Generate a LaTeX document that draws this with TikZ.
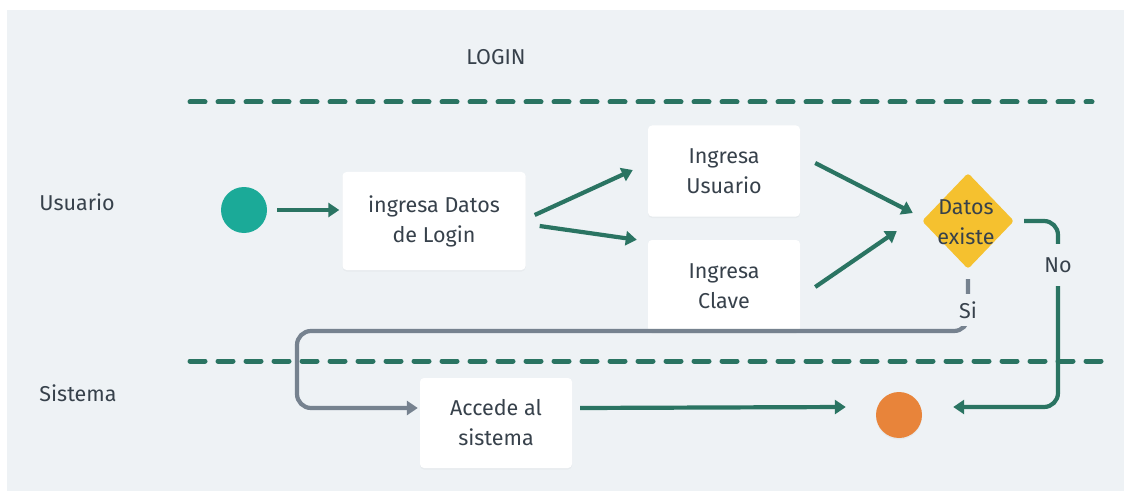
\documentclass[tikz,border=0pt]{standalone}
\usepackage{fontspec}
\setmainfont{Fira Sans}
\usetikzlibrary{arrows.meta,shapes.geometric,shadows}

\definecolor{bgc}{HTML}{EEF2F5}
\definecolor{flowc}{HTML}{2A7462}
\definecolor{greyc}{HTML}{76828F}
\definecolor{txtc}{HTML}{37414B}
\definecolor{startc}{HTML}{1BAA98}
\definecolor{endc}{HTML}{E8843A}
\definecolor{decc}{HTML}{F5C12F}

\tikzset{
  lbl/.style={font=\fontsize{21.5}{26}\selectfont, text=txtc, inner sep=0pt},
  stepbox/.style={fill=white, rounded corners=4pt, align=center,
    font=\fontsize{21.5}{30}\selectfont, text=txtc,
    drop shadow={opacity=0.06, shadow xshift=0pt, shadow yshift=-1.5pt}},
  flow/.style={draw=flowc, line width=4.2pt,
    -{Triangle[length=11pt,width=14pt]}},
  yesflow/.style={draw=greyc, line width=4.2pt,
    -{Triangle[length=11pt,width=14pt]}},
  lane/.style={draw=flowc, line width=5pt, line cap=round,
    dash pattern=on 15pt off 13pt},
  gaplabel/.style={fill=bgc, text=txtc, font=\fontsize{21.5}{26}\selectfont,
    inner xsep=2pt},
}

\begin{document}
\begin{tikzpicture}[x=1pt,y=-1pt]
  % page and backdrop
  \useasboundingbox (0,0) rectangle (1130,492);
  \fill[white] (0,0) rectangle (1130,492);
  \fill[bgc] (7,10) rectangle (1124,491);

  % title and lanes
  \node[lbl] (title) at (496,57) {LOGIN};
  \node[lbl] (laneU) at (77,202) {Usuario};
  \node[lbl] (laneS) at (78,393) {Sistema};
  \coordinate (l1a) at (190,102);
  \coordinate (l1b) at (1092,102);
  \coordinate (l2a) at (190,361);
  \coordinate (l2b) at (1102,361);
  \draw[lane] (l1a) -- (l1b);
  \draw[lane] (l2a) -- (l2b);

  % activity nodes
  \node[circle, fill=startc, minimum size=46pt, inner sep=0pt] (start) at (244,210) {};
  \node[stepbox, minimum width=183pt, minimum height=98pt] (ing) at (434,221) {ingresa Datos\\de Login};
  \node[stepbox, minimum width=152pt, minimum height=91pt] (usr) at (724,171) {Ingresa\\Usuario};
  \node[stepbox, minimum width=152pt, minimum height=92pt] (cla) at (724,286) {Ingresa\\Clave};
  \node[diamond, fill=decc, minimum width=92pt, minimum height=96pt, inner sep=0pt,
        rounded corners=3pt] (dec) at (968,221) {};
  \node[align=center, text=txtc, font=\fontsize{21.5}{30}\selectfont] (dectext) at (966,222) {Datos\\existe};
  \node[stepbox, minimum width=152pt, minimum height=90pt] (acc) at (496,423) {Accede al\\sistema};
  \node[circle, fill=endc, minimum size=46pt, inner sep=0pt,
        drop shadow={opacity=0.08, shadow xshift=0pt, shadow yshift=-1.5pt}] (end) at (899,415) {};

  % main flow
  \draw[flow] ([shift={(10,0)}]start.east) -- ([shift={(-3,-11)}]ing.west);
  \draw[flow] ([shift={(9,-6)}]ing.east) -- ([shift={(-15,-1)}]usr.west);
  \draw[flow] ([shift={(14,5)}]ing.east) -- ([shift={(-11,0)}]cla.north west);
  \draw[flow] ([shift={(15,-8)}]usr.east) -- ([shift={(-9,-8)}]dec.west);
  \draw[flow] ([shift={(15,1)}]cla.east) -- ([shift={(-25,10)}]dec.west);
  \draw[flow] ([shift={(8,-15)}]acc.east) -- ([shift={(-30,-8)}]end.west);

  % decision branches
  \draw[flow, rounded corners=14pt] ([shift={(10,0)}]dec.east) -| (1058,300)
        |- ([shift={(31,-8)}]end.east);
  \node[gaplabel, minimum height=42pt] (no) at (1058,265) {No};

  \draw[yesflow, rounded corners=14pt] ([shift={(0,10)}]dec.south) -- (968,331)
        -| (297,380) |- ([shift={(-2,-15)}]acc.west);
  \node[gaplabel, minimum height=32pt] (si) at (968,310) {Si};
\end{tikzpicture}
\end{document}
